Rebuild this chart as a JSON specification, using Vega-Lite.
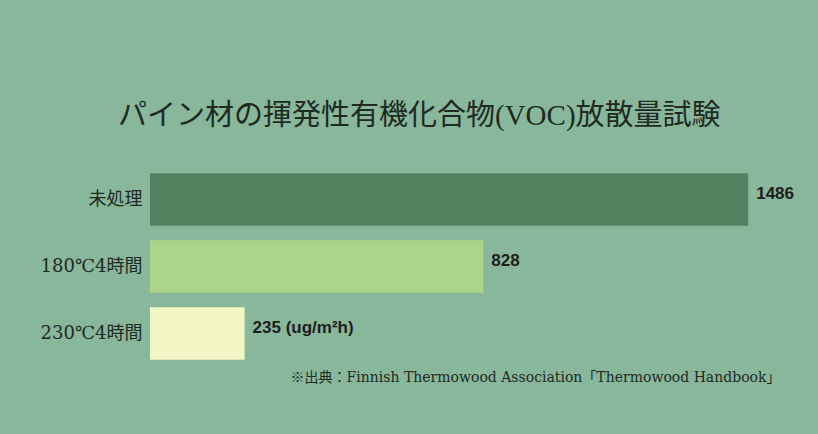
{
  "$schema": "https://vega.github.io/schema/vega-lite/v6.json",
  "autosize": {"type": "none"},
  "width": 630,
  "height": 201,
  "padding": {"left": 150, "top": 166, "right": 38, "bottom": 67},
  "background": "#88b79b",
  "config": {"view": {"stroke": null}},
  "title": {
    "text": "パイン材の揮発性有機化合物(VOC)放散量試験",
    "anchor": "start",
    "frame": "group",
    "dx": -32,
    "offset": 35,
    "font": "Liberation Serif, Noto Sans CJK JP",
    "fontSize": 29,
    "fontWeight": "normal",
    "color": "#1e2a22"
  },
  "data": {
    "values": [
      {"treatment": "未処理", "voc": 1486, "label": "1486"},
      {"treatment": "180℃4時間", "voc": 828, "label": "828"},
      {"treatment": "230℃4時間", "voc": 235, "label": "235 (ug/m²h)"}
    ]
  },
  "encoding": {
    "y": {
      "field": "treatment",
      "type": "nominal",
      "sort": null,
      "scale": {"paddingInner": 0.22, "paddingOuter": 0.11},
      "axis": {
        "title": null,
        "domain": false,
        "ticks": false,
        "labelPadding": 8,
        "labelFont": "DejaVu Serif, Noto Sans CJK JP",
        "labelFontSize": 18,
        "labelColor": "#1e2a22"
      }
    },
    "x": {
      "field": "voc",
      "type": "quantitative",
      "scale": {"domain": [0, 1565], "nice": false},
      "axis": {
        "title": "※出典：Finnish Thermowood Association「Thermowood Handbook」",
        "titleAnchor": "end",
        "titleFont": "DejaVu Serif, Noto Sans CJK JP",
        "titleFontSize": 14,
        "titleFontWeight": "normal",
        "titleColor": "#1e2a22",
        "titlePadding": 3,
        "domain": false,
        "ticks": false,
        "labels": false,
        "grid": false
      }
    }
  },
  "layer": [
    {
      "mark": {"type": "bar"},
      "encoding": {
        "color": {
          "field": "treatment",
          "type": "nominal",
          "sort": null,
          "scale": {"range": ["#568160", "#acd488", "#f2f5c4"]},
          "legend": null
        }
      }
    },
    {
      "mark": {
        "type": "text",
        "align": "left",
        "dx": 8,
        "dy": -6,
        "font": "Liberation Sans",
        "fontSize": 17,
        "fontWeight": "bold",
        "color": "#1e1e1e"
      },
      "encoding": {"text": {"field": "label"}}
    }
  ]
}
